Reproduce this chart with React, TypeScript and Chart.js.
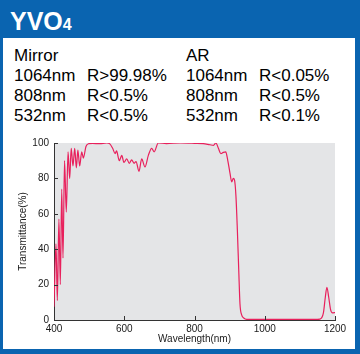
import React, { useEffect, useRef } from "react";
import { Chart, registerables } from "chart.js";

Chart.register(...registerables);

const wavelengths = [400, 405.7, 409.5, 414, 418, 422, 425.6, 430, 435, 440, 444.6, 449, 454, 459, 463.6, 468, 473, 479, 483.5, 491, 498, 510, 530, 550, 559, 567, 574, 578, 586, 593, 599, 607, 614.5, 621, 628, 633.5, 642, 649.6, 659, 668.6, 678, 685, 697, 720, 760, 800, 825, 844, 854, 861, 868, 875, 882, 889, 894.4, 901, 906, 910.5, 914, 918, 922, 926, 929.5, 934, 941, 948.5, 970, 1000, 1050, 1100, 1140, 1157, 1167, 1172.5, 1177, 1182, 1187.6, 1193, 1200];
const transmittance = [7.5, 43, 11, 57, 20, 74, 35, 90, 61, 95, 80, 97, 87, 97, 86, 96, 87, 95, 91.5, 98, 99.6, 99.8, 99.6, 100, 99.5, 97, 94, 95.5, 90, 93, 89, 91, 88.5, 90.5, 88.5, 89.5, 84, 91, 86.5, 93, 97, 95, 100, 99.7, 100, 99.8, 99.6, 99, 98.7, 100, 97, 94, 94.7, 95, 90.5, 83, 78, 80, 79, 70, 51, 28, 9, 3, 1, 0.4, 0.3, 0.3, 0.3, 0.3, 0.3, 0.5, 4, 13, 18.5, 13, 5.7, 4, 4.2];

const xTicks = [400, 600, 800, 1000, 1200];
const yTicks = [0, 20, 40, 60, 80, 100];

const mirrorRows = [
  ["1064nm", "R>99.98%"],
  ["808nm", "R<0.5%"],
  ["532nm", "R<0.5%"],
];
const arRows = [
  ["1064nm", "R<0.05%"],
  ["808nm", "R<0.5%"],
  ["532nm", "R<0.1%"],
];

const FONT = "'Liberation Sans', Arial, Helvetica, sans-serif";

const bgPlugin = {
  id: "plotBg",
  beforeDraw(chart: any) {
    const { ctx, chartArea } = chart;
    ctx.save();
    ctx.fillStyle = "#e4e5e7";
    ctx.fillRect(chartArea.left, chartArea.top, chartArea.right - chartArea.left, chartArea.bottom - chartArea.top);
    ctx.restore();
  },
  afterDraw(chart: any) {
    const { ctx, chartArea, scales } = chart;
    ctx.save();
    ctx.strokeStyle = "#333";
    ctx.lineWidth = 1;
    ctx.beginPath();
    for (const v of xTicks) {
      const px = Math.round(scales.x.getPixelForValue(v)) + 0.5;
      ctx.moveTo(px, chartArea.bottom);
      ctx.lineTo(px, chartArea.bottom - 4);
    }
    for (const v of yTicks) {
      const py = Math.round(scales.y.getPixelForValue(v)) + 0.5;
      ctx.moveTo(chartArea.left, py);
      ctx.lineTo(chartArea.left + 4, py);
    }
    ctx.stroke();
    ctx.restore();
  },
};

function TransChart() {
  const ref = useRef<HTMLCanvasElement>(null);
  useEffect(() => {
    if (!ref.current) return;
    const chart = new Chart(ref.current, {
      type: "line",
      data: {
        datasets: [
          {
            data: wavelengths.map((w, i) => ({ x: w, y: transmittance[i] })),
            borderColor: "#e8205c",
            borderWidth: 1.2,
            pointRadius: 0,
            cubicInterpolationMode: "monotone",
            fill: false,
          },
        ],
      },
      options: {
        animation: false,
        responsive: false,
        devicePixelRatio: 1,
        layout: { padding: { left: 13, right: 25, top: 13, bottom: 5 } },
        plugins: { legend: { display: false }, tooltip: { enabled: false } },
        scales: {
          x: {
            type: "linear",
            min: 400,
            max: 1200,
            afterFit: (s: any) => { s.height = 29; },
            afterBuildTicks: (s: any) => { s.ticks = xTicks.map((v) => ({ value: v })); },
            grid: { display: true, drawOnChartArea: false, drawTicks: false },
            border: { display: true, color: "#333", width: 1 },
            ticks: { padding: 3, color: "#1a1a1a", font: { family: FONT, size: 10 }, maxRotation: 0, callback: (v: any) => String(v) },
            title: { display: true, text: "Wavelength(nm)", color: "#1a1a1a", font: { family: FONT, size: 10 }, padding: 4 },
          },
          y: {
            min: 0,
            max: 100,
            afterFit: (s: any) => { s.width = 41; },
            afterBuildTicks: (s: any) => { s.ticks = yTicks.map((v) => ({ value: v })); },
            grid: { display: true, drawOnChartArea: false, drawTicks: false },
            border: { display: true, color: "#333", width: 1 },
            ticks: { padding: 5, color: "#1a1a1a", font: { family: FONT, size: 10 }, callback: (v: any) => String(v) },
            title: { display: true, text: "Transmittance(%)", color: "#1a1a1a", font: { family: FONT, size: 10 }, padding: 4 },
          },
        },
      },
      plugins: [bgPlugin],
    } as any);
    return () => chart.destroy();
  }, []);
  return <canvas ref={ref} width={360} height={224} style={{ position: "absolute", left: 0, top: 130, width: 360, height: 224 }} />;
}

const textStyle: React.CSSProperties = {
  position: "absolute",
  fontFamily: FONT,
  fontSize: 17,
  lineHeight: "20px",
  color: "#000",
  whiteSpace: "nowrap",
};

export default function App() {
  return (
    <div style={{ position: "absolute", left: 0, top: 0, width: 360, height: 354, background: "#0a64b0", overflow: "hidden" }}>
      <div style={{ position: "absolute", left: 10, top: 9, fontFamily: FONT, fontWeight: "bold", fontSize: 25, lineHeight: "25px", color: "#fff", whiteSpace: "nowrap" }}>
        YVO<span style={{ fontSize: 16 }}>4</span>
      </div>
      <div style={{ position: "absolute", left: 3, top: 38, width: 352, height: 311, background: "#fff" }} />
      <div style={{ ...textStyle, left: 14, top: 46 }}>Mirror</div>
      <div style={{ ...textStyle, left: 186, top: 46 }}>AR</div>
      {mirrorRows.map((r, i) => (
        <React.Fragment key={"m" + i}>
          <div style={{ ...textStyle, left: 14, top: 66 + i * 20 }}>{r[0]}</div>
          <div style={{ ...textStyle, left: 87, top: 66 + i * 20 }}>{r[1]}</div>
        </React.Fragment>
      ))}
      {arRows.map((r, i) => (
        <React.Fragment key={"a" + i}>
          <div style={{ ...textStyle, left: 186, top: 66 + i * 20 }}>{r[0]}</div>
          <div style={{ ...textStyle, left: 259, top: 66 + i * 20 }}>{r[1]}</div>
        </React.Fragment>
      ))}
      <TransChart />
    </div>
  );
}
